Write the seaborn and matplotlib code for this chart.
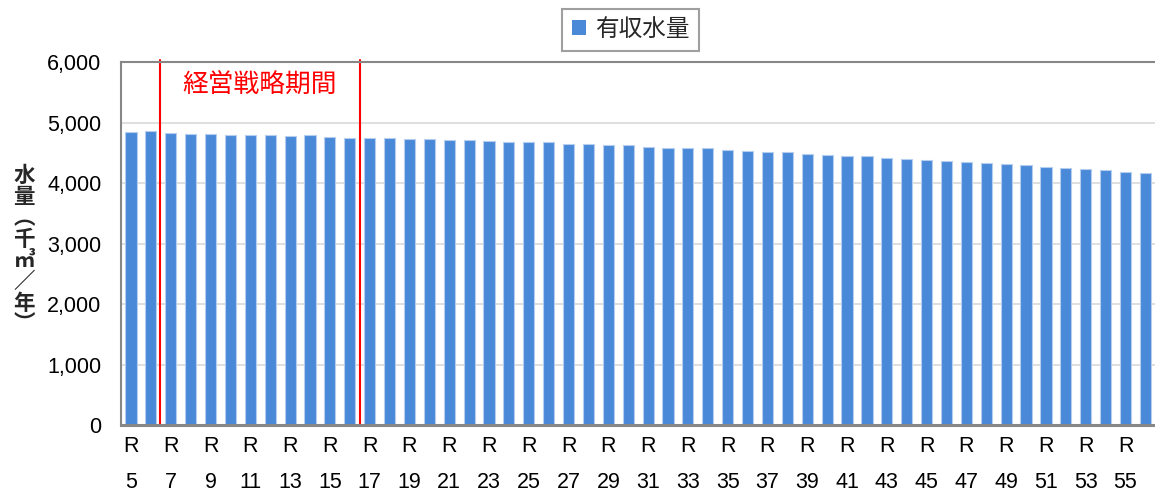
import numpy as np
import pandas as pd
import matplotlib
matplotlib.use('Agg')
import matplotlib.pyplot as plt
import seaborn as sns
from matplotlib.ticker import FuncFormatter

# 有収水量 (千㎥/年), R5 - R56
years = list(range(5, 57))
labels = ['R\n%d' % y for y in years]
values = [4843, 4854, 4826, 4815, 4810, 4799, 4799, 4787, 4776, 4787,
          4759, 4748, 4737, 4748, 4726, 4720, 4715, 4715, 4698, 4681,
          4670, 4670, 4653, 4637, 4625, 4631, 4603, 4586, 4575, 4575,
          4553, 4530, 4519, 4514, 4486, 4469, 4452, 4447, 4413, 4397,
          4380, 4369, 4341, 4324, 4307, 4296, 4268, 4246, 4229, 4207,
          4184, 4168]
period_start = 7   # 経営戦略期間 R7
period_end = 16    # ... R16

df = pd.DataFrame({'year': labels, 'value': values})

sns.set_theme(style='white')
plt.rcParams['font.family'] = ['Liberation Sans', 'Noto Sans CJK JP', 'DejaVu Sans']

fig = plt.figure(figsize=(11.55, 4.95), dpi=100)
ax = fig.add_axes([0.1048, 0.1414, 0.8955, 0.7333])

sns.barplot(data=df, x='year', y='value', color='#4a89d8', saturation=1,
            width=0.56, edgecolor='#b5cdee', linewidth=0.8, label='有収水量', ax=ax)

ax.set_ylim(0, 6000)
ax.set_xlim(-0.5, 51.5)
ax.set_yticks(range(0, 6001, 1000))
ax.yaxis.set_major_formatter(FuncFormatter(lambda v, p: '{:,}'.format(int(v))))
ax.yaxis.grid(True, color='#d9d9d9', lw=1.2)
ax.set_axisbelow(True)

idx = list(range(0, len(labels), 2))
ax.set_xticks(idx)
ax.set_xticklabels([labels[i] for i in idx], linespacing=1.95)
ax.tick_params(axis='x', length=0, pad=8, labelsize=15.5, colors='black')
ax.tick_params(axis='y', length=0, pad=14, labelsize=15.5, colors='black')
ax.set_xlabel('')
ax.set_ylabel('')

for s in ['left', 'top', 'bottom']:
    ax.spines[s].set_color('#878787')
    ax.spines[s].set_linewidth(1.5)
ax.spines['bottom'].set_linewidth(2.2)
ax.spines['right'].set_visible(False)

# 経営戦略期間 lines
x0 = years.index(period_start) - 0.55
x1 = years.index(period_end) + 0.5
ax.axvline(x0, ymin=0, ymax=1.005, color='#ff0000', lw=1.5, clip_on=False)
ax.axvline(x1, ymin=0, ymax=1.005, color='#ff0000', lw=1.5, clip_on=False)
ax.text((x0 + x1) / 2, 5600, '経営戦略期間', color='#ff0000', fontsize=18.5,
        ha='center', va='center', family=['Noto Sans CJK JP'])

fig.text(0.021, 0.495, '水\n量\n︵\n千\n㎥\n／\n年\n︶', fontsize=15.5, fontweight='bold',
         ha='center', va='center', linespacing=1.02, family=['Noto Sans CJK JP', 'DejaVu Sans'])

leg = ax.legend(loc='center', bbox_to_anchor=(0.546, 0.94), bbox_transform=fig.transFigure,
                handlelength=0.6, handleheight=0.6, handletextpad=0.4,
                frameon=True, fancybox=False, borderpad=0.4,
                prop={'family': ['Noto Sans CJK JP'], 'size': 17})
leg.get_frame().set_edgecolor('#878787')
leg.get_frame().set_linewidth(1.5)
for p in leg.get_patches():
    p.set_edgecolor('none')

plt.savefig('out.png', dpi=100)
